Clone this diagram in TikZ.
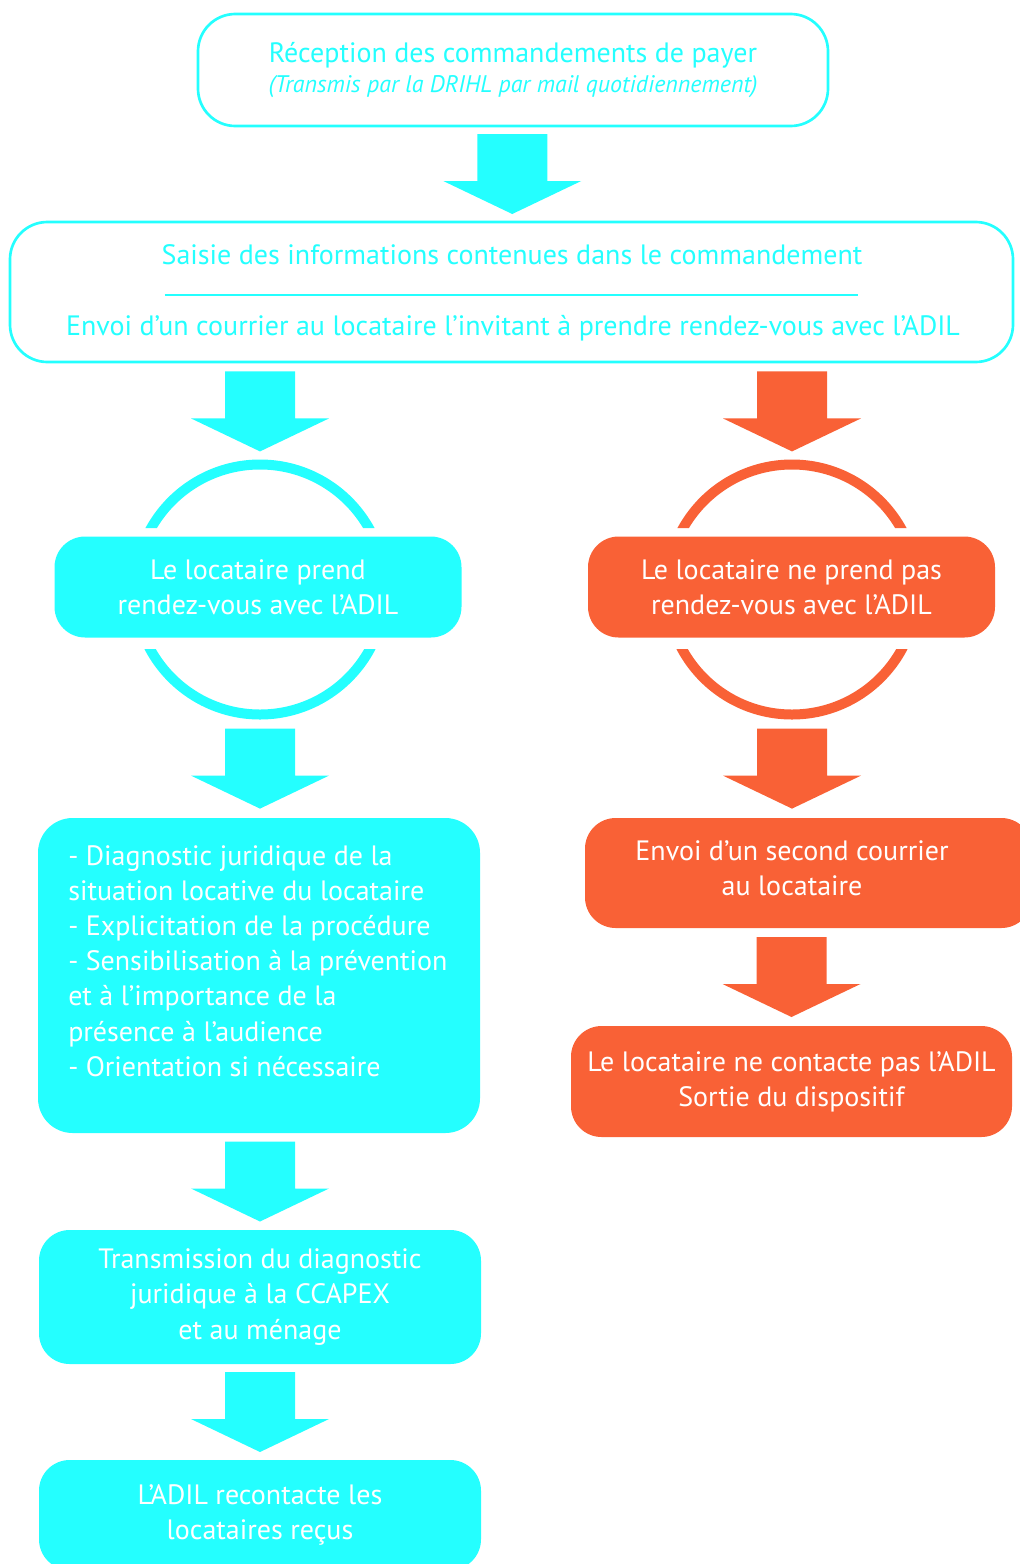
\documentclass[tikz,border=0pt]{standalone}
\usepackage{fontspec}
\setmainfont{PT Sans}
\usetikzlibrary{calc}
\definecolor{cyanA}{RGB}{36,255,255}
\definecolor{orangeA}{RGB}{249,97,54}
\pgfdeclarelayer{fond}
\pgfsetlayers{fond,main}
\newcommand{\texte}{\fontsize{21}{26.4}\selectfont}
\newcommand{\fleche}[3]{\fill[#1] ($(#2)!.5!(#3)$) ++(-35,-40) -- ++(70,0) -- ++(0,47) -- ++(34,0) -- ++(-69,33) -- ++(-69,-33) -- ++(34,0) -- cycle;}
\tikzset{
  cadre/.style={draw=cyanA, line width=2pt, rounded corners=28pt, inner sep=0pt, text=cyanA, align=center, font=\texte},
  pleinC/.style={fill=cyanA, rounded corners=23pt, inner sep=0pt, text=white, align=center, font=\texte},
  pleinO/.style={pleinC, fill=orangeA},
  anneau/.style={circle, line width=7.5pt, minimum size=187.5pt, inner sep=0pt, preaction={draw=white, line width=18pt}}
}
\begin{document}
\begin{tikzpicture}[x=0.75pt, y=-0.75pt]
  \useasboundingbox (0,0) rectangle (1020,1564);
  % haut
  \node[cadre, minimum width=472.5pt, minimum height=84pt] (recep) at (513,70)
    {Réception des commandements de payer\\[-4pt]
     {\fontsize{18}{20}\selectfont\itshape (Transmis par la DRIHL par mail quotidiennement)}};
  \node[cadre, minimum width=752.25pt, minimum height=105pt] (saisie) at (511.5,292) {};
  \node[text=cyanA, font=\texte, anchor=base] (saisieT) at (512,264) {Saisie des informations contenues dans le commandement};
  \node[text=cyanA, font=\texte, anchor=base] (envoiT) at (513,335) {Envoi d’un courrier au locataire l’invitant à prendre rendez-vous avec l’ADIL};
  \draw[cyanA, line width=1.5pt] ($(saisie.center)+(-347,3)$) -- ++(693,0);
  % anneaux
  \begin{scope}
    \clip (0,0) rectangle (1020,528) (0,649) rectangle (1020,1564);
    \node[anneau, draw=cyanA] (anneauG) at (260,589.5) {};
    \node[anneau, draw=orangeA] (anneauD) at (792,589.5) {};
  \end{scope}
  \node[pleinC, minimum width=305.25pt, minimum height=75.75pt] (rdvG) at (258,587) {Le locataire prend\\rendez-vous avec l’ADIL};
  \node[pleinO, minimum width=305.25pt, minimum height=75.75pt] (rdvD) at (791.5,587) {Le locataire ne prend pas\\rendez-vous avec l’ADIL};
  % gauche
  \node[pleinC, rounded corners=26pt, minimum width=331.5pt, minimum height=236.25pt] (diagG) at (259,975.5) {};
  \node[text=white, font=\texte, align=left, anchor=north west, inner sep=0pt] (diagT) at (68,845)
    {- Diagnostic juridique de la\\situation locative du locataire\\- Explicitation de la procédure\\- Sensibilisation à la prévention\\et à l’importance de la\\présence à l’audience\\- Orientation si nécessaire};
  \node[pleinC, minimum width=331.5pt, minimum height=100.5pt] (transG) at (260,1297) {Transmission du diagnostic\\juridique à la CCAPEX\\et au ménage};
  \node[pleinC, minimum width=331.5pt, minimum height=82.5pt] (adilG) at (260,1515) {L’ADIL recontacte les\\locataires reçus};
  % droite
  \node[pleinO, minimum width=335.25pt, minimum height=82.5pt] (courrierD) at (808.5,873) {};
  \node[text=white, font=\texte, align=center] (courrierT) at (792,868) {Envoi d’un second courrier\\au locataire};
  \node[pleinO, minimum width=330.75pt, minimum height=83.25pt] (sortieD) at (791.5,1081.5) {Le locataire ne contacte pas l’ADIL\\Sortie du dispositif};
  % fleches
  \begin{pgfonlayer}{fond}
    \fleche{cyanA}{recep.south}{saisie.north}
    \fleche{cyanA}{saisie.south -| anneauG}{anneauG.north}
    \fleche{orangeA}{saisie.south -| anneauD}{anneauD.north}
    \fleche{cyanA}{anneauG.south}{diagG.north -| anneauG}
    \fleche{orangeA}{anneauD.south}{courrierD.north -| anneauD}
    \fleche{cyanA}{diagG.south -| transG}{transG.north}
    \fleche{orangeA}{courrierD.south -| sortieD}{sortieD.north}
    \fleche{cyanA}{transG.south}{adilG.north}
  \end{pgfonlayer}
\end{tikzpicture}
\end{document}
